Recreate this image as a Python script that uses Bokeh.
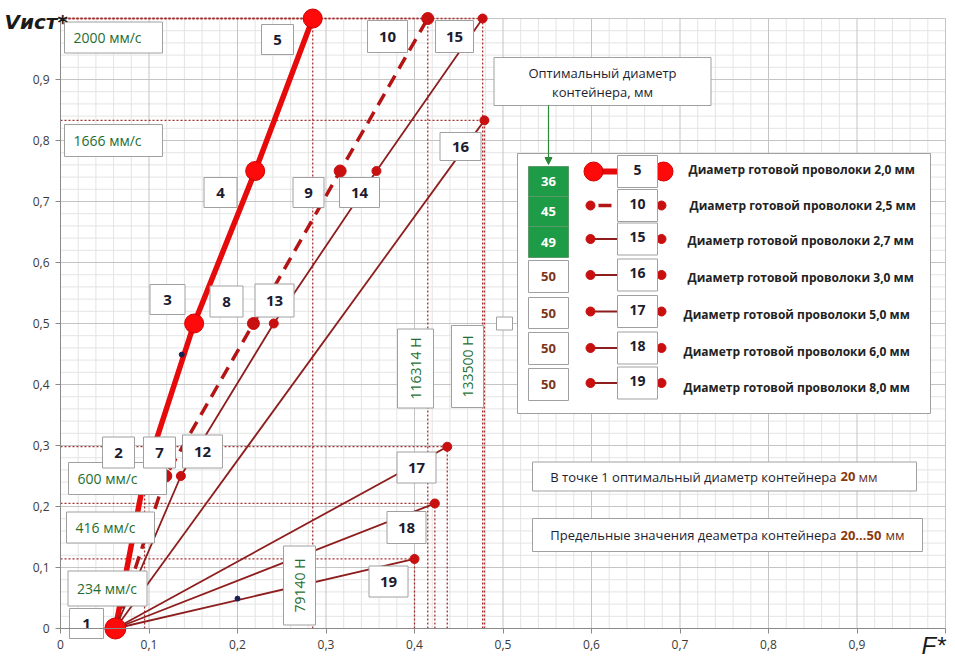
import math
from bokeh.plotting import figure
from bokeh.models import FixedTicker, CustomJSTickFormatter, Label, Arrow, NormalHead
from bokeh.core.properties import value
from bokeh.embed import file_html
from bokeh.resources import INLINE

# ---------------- data ----------------
wire_diam = ["2,0", "2,5", "2,7", "3,0", "5,0", "6,0", "8,0"]
container_diam = [36, 45, 49, 50, 50, 50, 50]
curve_ids = ["5", "10", "15", "16", "17", "18", "19"]

F_d20 = [0.062, 0.095, 0.151, 0.220, 0.285]
V_d20 = [0.0, 0.25, 0.50, 0.75, 1.0]
F_d25 = [0.062, 0.119, 0.218, 0.316, 0.415]
V_d25 = [0.0, 0.25, 0.50, 0.75, 1.0]
F_d27 = [0.062, 0.136, 0.241, 0.357, 0.477]
V_d27 = [0.0, 0.25, 0.50, 0.75, 1.0]
F_d30 = [0.062, 0.479]
V_d30 = [0.0, 0.833]
F_d50 = [0.062, 0.437]
V_d50 = [0.0, 0.298]
F_d60 = [0.062, 0.423]
V_d60 = [0.0, 0.205]
F_d80 = [0.062, 0.400]
V_d80 = [0.0, 0.114]
extra_F = [0.137, 0.200]
extra_V = [0.449, 0.049]

speed_labels = ["2000 мм/с", "1666 мм/с", "600 мм/с", "416 мм/с", "234 мм/с"]
force_labels = ["116314 Н", "133500 Н", "79140 Н"]
point_ids = ["1", "2", "7", "12", "3", "8", "13", "4", "9", "14", "5", "10", "15", "16", "17", "18", "19"]
x_ticks = [0, 0.1, 0.2, 0.3, 0.4, 0.5, 0.6, 0.7, 0.8, 0.9, 1.0]
y_ticks = [0, 0.1, 0.2, 0.3, 0.4, 0.5, 0.6, 0.7, 0.8, 0.9, 1.0]
minor_ticks = [round(0.02 * i, 2) for i in range(51)]

# ---------------- layout helpers (page pixels -> data) ----------------
W, H = 953, 664
X0, XS = 60.0, 885.0
Y0, YS = 628.0, 610.0
def X(px):
    return (px - X0) / XS
def Y(py):
    return (Y0 - py) / YS

FONT = "Open Sans"
TITLE_FONT = "DejaVu Sans"
RED = "#e60a0a"
DRED = "#b51414"
LINE = "#8e1d1d"
MRK = "#c81010"
GUIDE = "#a83030"
BORDER = "#a0a0a0"
GREEN_TXT = "#1f6e30"
NUM_TXT = "#1c1c30"

p = figure(width=W, height=H, output_backend="svg", toolbar_location=None,
           x_range=(X(0), X(W)), y_range=(Y(H), Y(0)),
           min_border_left=0, min_border_right=0, min_border_top=0, min_border_bottom=0)
p.outline_line_color = None
p.background_fill_color = "white"
p.grid.visible = False

for ax, ticks in ((p.xaxis[0], x_ticks), (p.yaxis[0], y_ticks)):
    ax.fixed_location = 0
    ax.bounds = (0, 1.0)
    ax.ticker = FixedTicker(ticks=ticks, minor_ticks=minor_ticks)
    ax.formatter = CustomJSTickFormatter(code="if (tick > 0.99) return ''; if (Math.abs(tick) < 1e-9) return '0'; return tick.toFixed(1).replace('.', ',');")
    ax.axis_line_color = "#8a8a8a"
    ax.major_tick_line_color = "#8a8a8a"
    ax.major_tick_out = 5
    ax.major_tick_in = 0
    ax.minor_tick_line_color = None
    ax.major_label_text_font = FONT
    ax.major_label_text_font_size = "12px"
    ax.major_label_text_color = "#3a3a3a"
    ax.major_label_standoff = 6

# grid from the tick arrays (limited to the 0..1 square)
minor_only = [m for m in minor_ticks if all(abs(m - t) > 1e-9 for t in x_ticks)]
n = len(minor_only)
p.segment(minor_only, [0] * n, minor_only, [1.0] * n, line_color="#e4e4e4", line_width=1)
p.segment([0] * n, minor_only, [1.0] * n, minor_only, line_color="#e4e4e4", line_width=1)
p.segment(x_ticks, [0] * len(x_ticks), x_ticks, [1.0] * len(x_ticks), line_color="#c4c4c4", line_width=1)
p.segment([0] * len(y_ticks), y_ticks, [1.0] * len(y_ticks), y_ticks, line_color="#c4c4c4", line_width=1)

# ---------------- guide (dotted) lines from series end points ----------------
series = [(F_d20, V_d20), (F_d25, V_d25), (F_d27, V_d27), (F_d30, V_d30),
          (F_d50, V_d50), (F_d60, V_d60), (F_d80, V_d80)]
gx0, gy0, gx1, gy1 = [], [], [], []
for F, V in series:
    gx0.append(0); gy0.append(V[-1]); gx1.append(F[-1]); gy1.append(V[-1])
    gx0.append(F[-1]); gy0.append(0); gx1.append(F[-1]); gy1.append(V[-1])
gx0.append(F_d20[1]); gy0.append(0); gx1.append(F_d20[1]); gy1.append(V_d20[1])
p.segment(gx0, gy0, gx1, gy1, line_color=GUIDE, line_width=1.3, line_dash="2 2")

# ---------------- series ----------------
p.line(F_d20, V_d20, line_color=RED, line_width=5.5)
p.line(F_d25, V_d25, line_color=DRED, line_width=3.5, line_dash="13 8")
p.line(F_d27, V_d27, line_color=LINE, line_width=1.8)
for F, V in [(F_d30, V_d30), (F_d50, V_d50), (F_d60, V_d60), (F_d80, V_d80)]:
    p.line(F, V, line_color=LINE, line_width=1.8)

p.scatter(F_d25[1:], V_d25[1:], size=12, fill_color=MRK, line_color=MRK)
for F, V in [(F_d27, V_d27), (F_d30, V_d30), (F_d50, V_d50), (F_d60, V_d60), (F_d80, V_d80)]:
    p.scatter(F[1:], V[1:], size=9, fill_color=MRK, line_color=MRK)
p.scatter(F_d20[2:], V_d20[2:], size=19, fill_color="#ff0a0a", line_color="#d00000")
p.scatter(F_d20[:1], V_d20[:1], size=21, fill_color="#ff0a0a", line_color="#d00000")
p.scatter(extra_F, extra_V, size=5, fill_color="#1a2050", line_color="#1a2050")

# ---------------- helpers for boxes and texts ----------------
def box(cx, cy, w, h, fill="white", line=BORDER):
    p.rect([X(cx)], [Y(cy)], width=w, height=h, width_units="screen", height_units="screen",
           fill_color=fill, line_color=line, line_width=1)

def txt(px, py, s, size="13px", color="#222222", style="normal", align="center", angle=0.0):
    p.text([X(px)], [Y(py)], text=[s], text_font=value(FONT), text_font_size=value(size),
           text_color=color, text_font_style=style, text_align=align,
           text_baseline="middle", angle=angle)

# speed boxes
speed_pos = [(113, 37, 98, 31), (113, 140, 98, 32), (117, 478, 98, 32), (110, 527, 88, 31), (107, 588, 79, 35)]
for s, (cx, cy, w, h) in zip(speed_labels, speed_pos):
    box(cx, cy, w, h)
    txt(cx - w / 2 + 9, cy, s, size="14px", color=GREEN_TXT, align="left")

# force boxes (rotated)
force_pos = [(415, 368, 36, 79), (467, 366, 32, 82), (299, 585, 32, 79)]
for s, (cx, cy, w, h) in zip(force_labels, force_pos):
    box(cx, cy, w, h)
    txt(cx, cy, s, size="14px", color=GREEN_TXT, angle=math.pi / 2)

# point number boxes
point_pos = [(86, 623, 34, 30), (118, 452, 32, 31), (159, 452, 32, 31), (202, 451, 40, 33),
             (167, 299, 35, 30), (226, 301, 33, 31), (274, 300, 39, 33),
             (220, 192, 33, 30), (308, 192, 31, 30), (359, 192, 40, 30),
             (277, 39, 32, 30), (387, 36, 40, 32), (454, 36, 38, 32), (460, 146, 41, 28),
             (416, 467, 39, 31), (406, 527, 39, 32), (388, 581, 39, 31)]
for s, (cx, cy, w, h) in zip(point_ids, point_pos):
    box(cx, cy, w, h)
    txt(cx, cy, s, size="15px", color=NUM_TXT, style="bold")

# small empty box
box(504, 323, 16, 13)

# callout
box(602, 81, 217, 48)
txt(602, 72, "Оптимальный диаметр", size="13px", color="#1e1e30")
txt(602, 91, "контейнера, мм", size="13px", color="#1e1e30")
p.add_layout(Arrow(end=NormalHead(size=7, fill_color="#2a8a3a", line_color="#2a8a3a"),
                   x_start=X(548), y_start=Y(105), x_end=X(548), y_end=Y(164),
                   line_color="#2a8a3a", line_width=1.2))

# legend
box(723.5, 283, 413, 260)
cell_pos = [(548, 181, 40, 30), (548, 211, 40, 30), (548, 241.5, 40, 31),
            (548, 276, 40, 32), (548, 312.5, 40, 31), (548, 348, 40, 32), (548, 384, 40, 32)]
for d, (cx, cy, w, h) in zip(container_diam, cell_pos):
    green = d < 50
    box(cx, cy, w, h, fill="#1d9b47" if green else "white", line="#5a9a6a" if green else BORDER)
    txt(cx, cy, str(d), size="13px", color="white" if green else "#7a3516", style="bold")

row_y = [171, 205, 238.5, 274.5, 311, 347.5, 382.5]
text_y = [169, 205, 240, 277, 314, 351, 387]
text_x = [688, 689, 687, 687, 683, 683, 683]
for i, (cid, dw) in enumerate(zip(curve_ids, wire_diam)):
    ry = row_y[i]
    if i == 0:
        p.segment([X(593)], [Y(ry)], [X(617)], [Y(ry)], line_color=RED, line_width=6)
        p.scatter([X(593), X(663)], [Y(ry), Y(ry)], size=19, fill_color="#ff0a0a", line_color="#d00000")
    elif i == 1:
        p.segment([X(598)], [Y(ry)], [X(611)], [Y(ry)], line_color=DRED, line_width=3.5)
        p.scatter([X(590), X(661)], [Y(ry), Y(ry)], size=9, fill_color=MRK, line_color=MRK)
    else:
        p.segment([X(590)], [Y(ry)], [X(617)], [Y(ry)], line_color=LINE, line_width=2)
        p.scatter([X(590), X(661)], [Y(ry), Y(ry)], size=9, fill_color=MRK, line_color=MRK)
    box(637, ry, 40, 32)
    txt(637, ry - 2, cid, size="14px", color=NUM_TXT, style="bold")
    txt(text_x[i], text_y[i], "Диаметр готовой проволоки " + dw + " мм", size="12px",
        color="#222222", style="bold", align="left")

# bottom info boxes
box(724, 476, 384, 29)
txt(836, 476, "В точке 1 оптимальный диаметр контейнера", size="13px", color="#1e1e30", align="right")
txt(840, 476, "20", size="13px", color="#8a3a0c", style="bold", align="left")
txt(858, 476, "мм", size="13px", color="#6a3020", align="left")
box(727, 534.5, 390, 33)
txt(836, 534, "Предельные значения деаметра контейнера", size="13px", color="#1e1e30", align="right")
txt(840, 534, "20…50", size="13px", color="#8a3a0c", style="bold", align="left")
txt(885, 534, "мм", size="13px", color="#6a3020", align="left")

# axis titles
p.add_layout(Label(x=X(4), y=Y(21), text="Vист*", text_font=TITLE_FONT, text_font_size="20px",
                   text_font_style="bold italic", text_color="#1a1a1a", text_baseline="middle"))
p.add_layout(Label(x=X(921), y=Y(645), text="F*", text_font="Liberation Sans", text_font_size="24px",
                   text_font_style="italic", text_color="#1a1a1a", text_baseline="middle"))

open("out.html", "w").write(file_html(p, INLINE))
